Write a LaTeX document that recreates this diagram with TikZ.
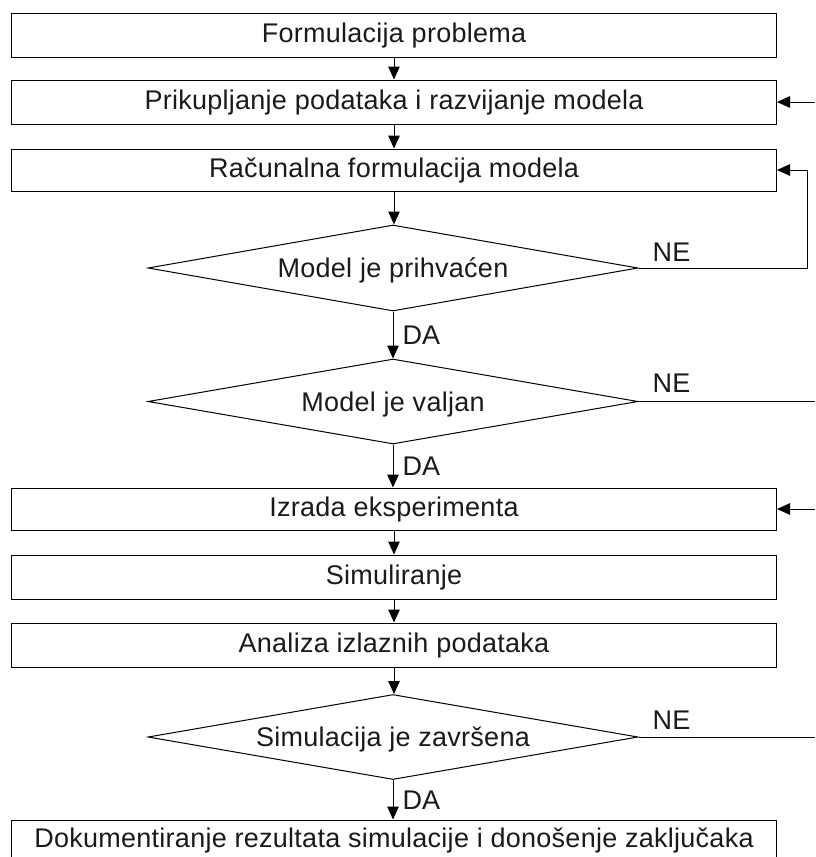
\documentclass[tikz,border=0pt]{standalone}
\usepackage{fontspec}
\setmainfont{Liberation Sans}[LetterSpace=1]
\usetikzlibrary{shapes.geometric,arrows.meta,calc}
\definecolor{txt}{HTML}{1A1A1A}
\begin{document}
\begin{tikzpicture}[x=1pt,y=-1pt,
  every node/.style={font=\fontsize{27}{32}\selectfont, text=txt},
  box/.style={draw=black, line width=1pt, rectangle, minimum width=765pt, minimum height=44pt, inner sep=0pt, text height=19.5pt, text depth=5.5pt},
  dec/.style={draw=black, line width=1pt, diamond, aspect=5.7, minimum width=490pt, minimum height=86pt, inner sep=0pt, text height=19.3pt, text depth=0pt},
  arr/.style={line width=1pt, -{Triangle[length=13pt,width=11.5pt]}},
  ln/.style={line width=1pt},
  lbl/.style={inner sep=0pt, anchor=base west},
  da/.style={inner sep=0pt, anchor=west, xshift=9pt}
]
\useasboundingbox (0,0) rectangle (815,857);
\node[box] (b1) at (394,35) {Formulacija problema};
\node[box] (b2) at (394,102) {Prikupljanje podataka i razvijanje modela};
\node[box, minimum height=42pt] (b3) at (394,170) {Računalna formulacija modela};
\node[dec] (d1) at (393,268) {Model je prihvaćen};
\node[dec, minimum height=85pt] (d2) at (393,401.5) {Model je valjan};
\node[box, minimum height=42pt] (b4) at (394,509) {Izrada eksperimenta};
\node[box] (b5) at (394,577) {Simuliranje};
\node[box] (b6) at (394,645) {Analiza izlaznih podataka};
\node[dec, minimum height=85pt] (d3) at (393,737) {Simulacija je završena};
\node[box, minimum height=50pt, text height=19.3pt, text depth=15pt] (b7) at (394,845) {Dokumentiranje rezultata simulacije i donošenje zaključaka};

\coordinate (rim) at (815,0);
\coordinate (fb) at (807,268);

\draw[arr] (b1.south) -- (b2.north);
\draw[arr] (b2.south) -- (b3.north);
\draw[arr] (b3.south) -- (b3.south |- d1.north);
\draw[arr] (d1.south) -- node[da] {DA} (d1.south |- d2.north);
\draw[arr] (d2.south) -- node[da] {DA} (d2.south |- b4.north);
\draw[arr] (b4.south) -- (b5.north);
\draw[arr] (b5.south) -- (b6.north);
\draw[arr] (b6.south) -- (b6.south |- d3.north);
\draw[arr] (d3.south) -- node[da] {DA} (d3.south |- b7.north);

\draw[arr] (d1.east) -- (fb) |- (b3.east);
\draw[arr] (b2.east -| rim) -- (b2.east);
\draw[arr] (b4.east -| rim) -- (b4.east);
\draw[ln] (d2.east) -- (d2.east -| rim);
\draw[ln] (d3.east) -- (d3.east -| rim);

\node[lbl] (ne1) at ($(d1.east)+(14,-7)$) {NE};
\node[lbl] (ne2) at ($(d2.east)+(14,-9)$) {NE};
\node[lbl] (ne3) at ($(d3.east)+(14,-8)$) {NE};
\end{tikzpicture}
\end{document}
